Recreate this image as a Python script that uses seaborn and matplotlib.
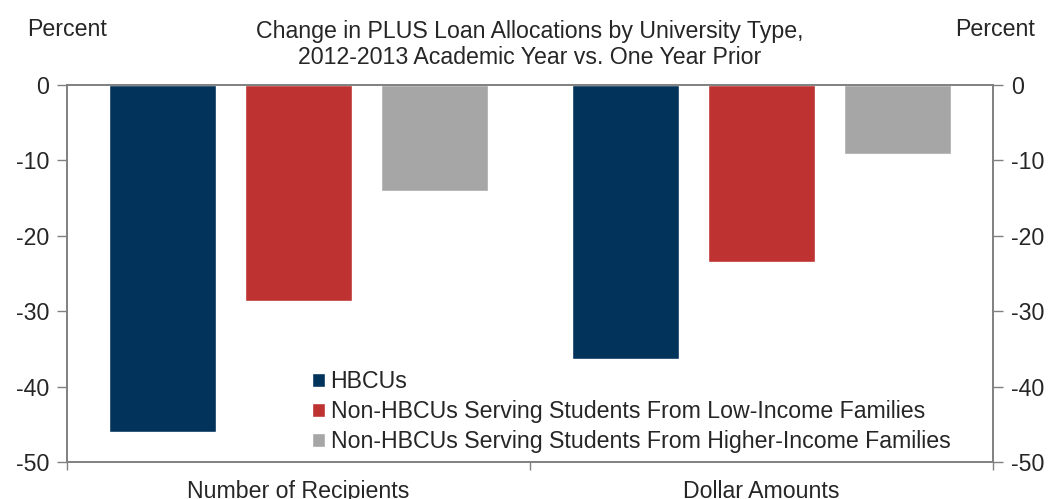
import matplotlib
matplotlib.use("Agg")
import matplotlib.pyplot as plt
import seaborn as sns
import pandas as pd
from matplotlib.ticker import FixedLocator

categories = ["Number of Recipients", "Dollar Amounts"]
series_names = ["HBCUs",
                "Non-HBCUs Serving Students From Low-Income Families",
                "Non-HBCUs Serving Students From Higher-Income Families"]
hbcu = [-46.0, -36.3]
low_income = [-28.7, -23.5]
high_income = [-14.1, -9.2]
colors = ["#02335A", "#BE3232", "#A6A6A6"]
yticks = [0, -10, -20, -30, -40, -50]

rows = []
for name, vals in zip(series_names, [hbcu, low_income, high_income]):
    for c, v in zip(categories, vals):
        rows.append({"category": c, "series": name, "value": v})
df = pd.DataFrame(rows)

sns.set_style("white")
plt.rcParams['font.family'] = ['Liberation Sans', 'DejaVu Sans']
FS = 16.7
grey = "#808080"

fig = plt.figure(figsize=(10.48, 4.99), dpi=100)
ax = fig.add_axes([67/1048, 37/499, 926/1048, 377/499])

sns.barplot(data=df, x="category", y="value", hue="series", order=categories,
            hue_order=series_names, palette=colors, width=0.88, gap=0.21,
            saturation=1, ax=ax, legend=True)

ax.set_xlim(-0.5, 1.5)
ax.set_ylim(-50, 0)
ax.set_xlabel("")
ax.set_ylabel("")

# x ticks: boundaries as major ticks (no labels), category labels as minor
ax.xaxis.set_major_locator(FixedLocator([-0.5, 0.5, 1.5]))
ax.set_xticklabels(["", "", ""])
ax.xaxis.set_minor_locator(FixedLocator([0, 1]))
ax.set_xticklabels(categories, minor=True, fontsize=FS)
ax.tick_params(axis="x", which="major", direction="out", length=6, width=1, color=grey, bottom=True)
ax.tick_params(axis="x", which="minor", length=0, pad=13)

ax.set_yticks(yticks)
ax.set_yticklabels([str(t) for t in yticks], fontsize=FS)
ax.tick_params(axis="y", direction="out", length=7, width=1, color=grey, left=True, pad=6)

ax2 = ax.twinx()
ax2.set_ylim(-50, 0)
ax2.set_yticks(yticks)
ax2.set_yticklabels([str(t) for t in yticks], fontsize=FS)
ax2.tick_params(axis="y", direction="out", length=7, width=1, color=grey, right=True, pad=6)

for a in (ax, ax2):
    for s in a.spines.values():
        s.set_visible(True)
        s.set_color(grey)
        s.set_linewidth(1.2)

ax.set_title("Change in PLUS Loan Allocations by University Type,\n2012-2013 Academic Year vs. One Year Prior",
             fontsize=FS, pad=15, linespacing=1.15)
fig.text(27/1048, 1 - 30/499, "Percent", fontsize=FS, ha="left", va="center")
fig.text(1035/1048, 1 - 30/499, "Percent", fontsize=FS, ha="right", va="center")

leg = ax.legend(loc="upper left", bbox_to_anchor=((312 - 67)/926, (462 - 370)/377),
                frameon=False, fontsize=FS, handlelength=0.55, handleheight=0.55,
                handletextpad=0.25, labelspacing=0.3, borderpad=0, borderaxespad=0)

fig.savefig("out.png", dpi=100)
